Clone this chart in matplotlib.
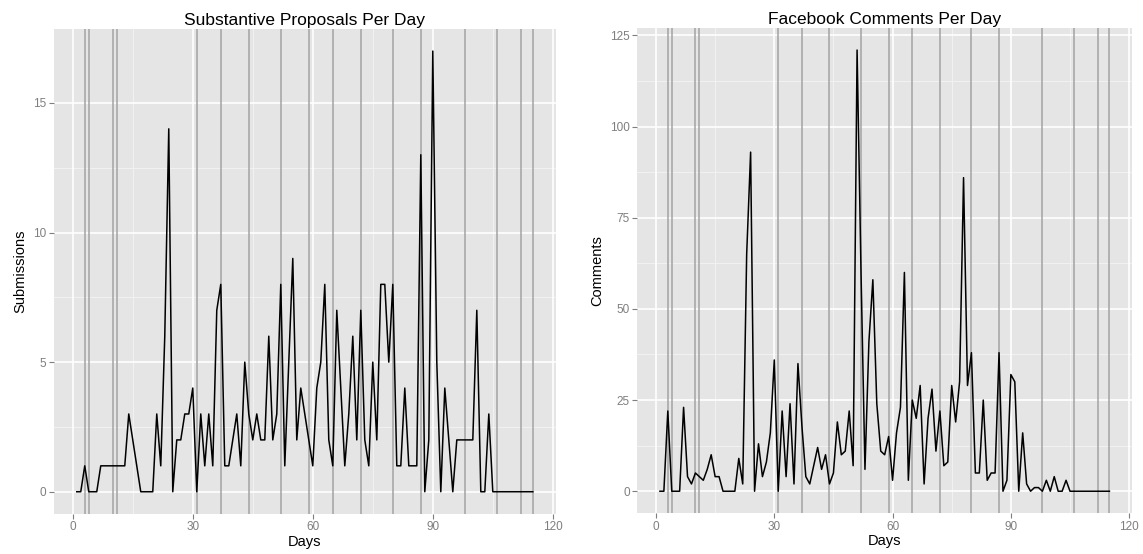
import numpy as np
import matplotlib
matplotlib.use("Agg")
import matplotlib.pyplot as plt

plt.rcParams['font.family'] = ['Liberation Sans', 'DejaVu Sans']

days = list(range(1, 116))

submissions = [0, 0, 1, 0, 0, 0, 1, 1, 1, 1, 1, 1, 1, 3, 2, 1, 0, 0, 0, 0,
               3, 1, 6, 14, 0, 2, 2, 3, 3, 4, 0, 3, 1, 3, 1, 7, 8, 1, 1, 2,
               3, 1, 5, 3, 2, 3, 2, 2, 6, 2, 3, 8, 1, 5, 9, 2, 4, 3, 2, 1,
               4, 5, 8, 2, 1, 7, 4, 1, 3, 6, 2, 7, 2, 1, 5, 2, 8, 8, 5, 8,
               1, 1, 4, 1, 1, 1, 13, 0, 2, 17, 5, 0, 4, 2, 0, 2, 2, 2, 2, 2,
               7, 0, 0, 3, 0, 0, 0, 0, 0, 0, 0, 0, 0, 0, 0]

comments = [0, 0, 22, 0, 0, 0, 23, 4, 2, 5, 4, 3, 6, 10, 4, 4, 0, 0, 0, 0,
            9, 2, 65, 93, 0, 13, 4, 8, 16, 36, 0, 22, 4, 24, 2, 35, 18, 4, 2, 7,
            12, 6, 10, 2, 5, 19, 10, 11, 22, 7, 121, 60, 6, 41, 58, 24, 11, 10, 15, 3,
            16, 23, 60, 3, 25, 20, 29, 2, 20, 28, 11, 22, 7, 8, 29, 19, 30, 86, 29, 38,
            5, 5, 25, 3, 5, 5, 38, 0, 3, 32, 30, 0, 16, 2, 0, 1, 1, 0, 3, 0,
            4, 0, 0, 3, 0, 0, 0, 0, 0, 0, 0, 0, 0, 0, 0]

event_days = [3, 4, 10, 11, 31, 37, 44, 52, 59, 65, 72, 80, 87, 98, 106, 112, 115]

x_ticks = [0, 30, 60, 90, 120]
x_minor = [15, 45, 75, 105]

panels = [
    dict(y=submissions, title="Substantive Proposals Per Day", ylabel="Submissions",
         yticks=[0, 5, 10, 15], yminor=[2.5, 7.5, 12.5],
         pos=[0.0472, 0.0726, 0.4389, 0.875]),
    dict(y=comments, title="Facebook Comments Per Day", ylabel="Comments",
         yticks=[0, 25, 50, 75, 100, 125], yminor=[12.5, 37.5, 62.5, 87.5, 112.5],
         pos=[0.5577, 0.0735, 0.4326, 0.876]),
]

fig = plt.figure(figsize=(11.43, 5.54), dpi=100)

for p in panels:
    ax = fig.add_axes(p['pos'])
    ax.set_facecolor('#E5E5E5')
    for v in x_minor:
        ax.axvline(v, color='#F2F2F2', lw=0.7, zorder=0)
    for v in p['yminor']:
        ax.axhline(v, color='#F2F2F2', lw=0.7, zorder=0)
    for v in x_ticks:
        ax.axvline(v, color='white', lw=1.2, zorder=0.5)
    for v in p['yticks']:
        ax.axhline(v, color='white', lw=1.2, zorder=0.5)
    for d in event_days:
        ax.axvline(d, color='#A3A3A3', lw=1.1, zorder=1)
    ax.plot(days, p['y'], color='black', lw=1.1, zorder=2)

    ymax = max(p['y'])
    pad = ymax * 0.05
    ax.set_ylim(-pad, ymax + pad)
    xpad = (days[-1] - days[0]) * 0.05
    ax.set_xlim(days[0] - xpad, days[-1] + xpad)

    ax.set_xticks(x_ticks)
    ax.set_yticks(p['yticks'])
    ax.tick_params(colors='#7F7F7F', labelcolor='#7F7F7F', labelsize=8.5,
                   length=3.5, width=0.8, pad=2)
    for s in ax.spines.values():
        s.set_visible(False)
    ax.set_title(p['title'], fontsize=12.5, pad=3)
    ax.set_xlabel("Days", fontsize=10.5, labelpad=1)
    ax.set_ylabel(p['ylabel'], fontsize=10.5, labelpad=4)

fig.savefig("out.png", dpi=100)
